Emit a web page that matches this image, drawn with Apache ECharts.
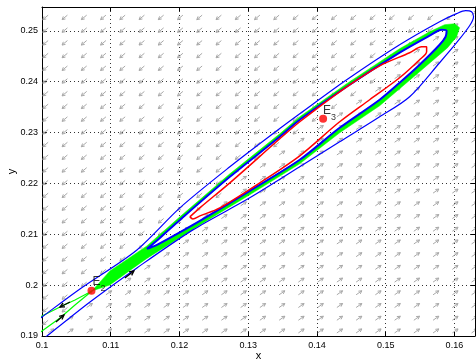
<!DOCTYPE html>
<html><head><meta charset="utf-8">
<script src="https://cdn.jsdelivr.net/npm/echarts@6/dist/echarts.min.js"></script>
<style>html,body{margin:0;padding:0;background:#fff}#c{width:476px;height:364px}</style>
</head><body><div id="c"></div>
<script>
// ---- axis ticks ----
const xTicks = [0.1, 0.11, 0.12, 0.13, 0.14, 0.15, 0.16];
const yTicks = [0.19, 0.2, 0.21, 0.22, 0.23, 0.24, 0.25];
// ---- equilibria ----
const E2 = [0.1072, 0.1989];
const E3 = [0.1409, 0.2327];
// ---- outer blue orbit (leaves the frame at lower left) ----
const outerBlueX = [0.09826,0.1,0.10552,0.11381,0.12006,0.12733,0.13416,0.1375,0.14433,0.15203,0.15785,0.16032,0.16163,0.1625,0.16279,0.16221,0.16032,0.15785,0.15349,0.14913,0.14331,0.1375,0.13023,0.12195,0.11381,0.10698,0.10073,0.09971];
const outerBlueY = [0.19197,0.19374,0.19925,0.20693,0.2152,0.22327,0.23035,0.2337,0.24039,0.24728,0.25181,0.25339,0.25398,0.25378,0.2528,0.25102,0.24768,0.24374,0.23705,0.23311,0.22819,0.22327,0.21717,0.21087,0.20339,0.19669,0.19,0.18882];
// ---- inner blue closed orbit ----
const innerBlueX = [0.11526,0.11715,0.12006,0.12733,0.13459,0.1375,0.14433,0.15203,0.1564,0.15814,0.15887,0.15872,0.15785,0.15494,0.15203,0.14913,0.14331,0.1375,0.13023,0.12297,0.1186,0.11642,0.11526];
const innerBlueY = [0.20713,0.20929,0.21283,0.2213,0.22917,0.23252,0.23902,0.24571,0.24906,0.25024,0.25004,0.24886,0.24728,0.24335,0.2398,0.23646,0.23094,0.22465,0.21854,0.21264,0.20929,0.20772,0.20713];
// ---- red closed orbit ----
const redX = [0.12151,0.12297,0.12733,0.13459,0.1375,0.14331,0.14913,0.15349,0.15523,0.15596,0.15596,0.15494,0.15203,0.14767,0.14331,0.1375,0.13169,0.12587,0.12297,0.12195,0.12151];
const redY = [0.21343,0.2152,0.22012,0.22878,0.23213,0.23803,0.24313,0.24571,0.24689,0.24689,0.24591,0.24433,0.24079,0.23646,0.23213,0.22543,0.22012,0.2152,0.21362,0.21303,0.21343];
// ---- green band (outer edge, starts and ends at E2) ----
const greenX = [0.10727,0.10988,0.11279,0.11526,0.12006,0.12733,0.13459,0.1375,0.14433,0.15203,0.1564,0.15858,0.16003,0.16076,0.16032,0.15901,0.15494,0.15203,0.14913,0.14331,0.1375,0.13023,0.12297,0.1186,0.11526,0.11279,0.10988,0.10727];
const greenY = [0.19886,0.20280,0.20545,0.20772,0.21343,0.22189,0.22976,0.23311,0.23961,0.2465,0.24984,0.25122,0.25142,0.25063,0.24886,0.24669,0.24197,0.23862,0.23528,0.22996,0.22386,0.21776,0.21185,0.20811,0.20526,0.20289,0.20004,0.19886];
// ---- green manifolds of E2 ----
const greenAX = [0.10727,0.1048,0.10291,0.1,0.09913];
const greenAY = [0.19886,0.19709,0.19591,0.19394,0.19335];
const greenBX = [0.10727,0.1048,0.10262,0.1,0.09913];
const greenBY = [0.19886,0.1961,0.19354,0.19098,0.1901];
// ---- black direction arrows (tail -> tip) ----
const dirTailX = [0.10407,0.10203,0.11206];
const dirTailY = [0.19669,0.19276,0.20142];
const dirTipX = [0.10262,0.1032,0.11337];
const dirTipY = [0.19571,0.19413,0.2028];
// ---- direction field grid ----
const quiverX = [0.1009,0.1037,0.1065,0.1093,0.1121,0.1149,0.1177,0.1205,0.1233,0.1261,0.1289,0.1317,0.1345,0.1373,0.1401,0.1429,0.1457,0.1485,0.1513,0.1541,0.1569,0.1597,0.1625];
const quiverY = [0.1906,0.1931,0.1956,0.1981,0.2006,0.2031,0.2056,0.2081,0.2106,0.2131,0.2156,0.2181,0.2206,0.2231,0.2256,0.2281,0.2306,0.2331,0.2356,0.2381,0.2406,0.2431,0.2456,0.2481,0.2506,0.2531];
const quiverAngleAbove = 220; // degrees, screen
const quiverAngleBelow = 35;

const FONT = 'Liberation Sans, Arial, sans-serif';
const pairs = (xs, ys) => xs.map((x, i) => [x, ys[i]]);
const slope = (E3[1] - E2[1]) / (E3[0] - E2[0]);
const quiverData = [];
quiverY.forEach(y => quiverX.forEach(x => {
  const side = (y - E2[1]) - slope * (x - E2[0]);
  quiverData.push([x, y, side > 0 ? quiverAngleAbove : quiverAngleBelow]);
}));

function arrowShape(p, rad, L, h, color, lw, ha) {
  const tip = [p[0] + L * Math.cos(rad), p[1] - L * Math.sin(rad)];
  const back = rad + Math.PI;
  const h1 = [tip[0] + h * Math.cos(back + ha), tip[1] - h * Math.sin(back + ha)];
  const h2 = [tip[0] + h * Math.cos(back - ha), tip[1] - h * Math.sin(back - ha)];
  return [
    {type: 'line', shape: {x1: p[0], y1: p[1], x2: tip[0], y2: tip[1]}, style: {stroke: color, lineWidth: lw}},
    {type: 'polyline', shape: {points: [h1, tip, h2]}, style: {stroke: color, lineWidth: lw, fill: null}}
  ];
}

const ring = pairs(greenX, greenY).concat(pairs(innerBlueX, innerBlueY).reverse());
const fmt = v => { const r = Math.round(v * 100) / 100; return Math.abs(v - r) < 1e-9 ? String(r) : ''; };

const axisCommon = {
  type: 'value',
  axisLine: {show: true, onZero: false, lineStyle: {color: '#000', width: 1}},
  axisTick: {show: true, inside: true, length: 4, lineStyle: {color: '#000'}},
};
const chart = echarts.init(document.getElementById('c'));
chart.setOption({
  animation: false,
  grid: {left: 42, right: 1, top: 7, bottom: 28, containLabel: false, outerBoundsMode: 'none'},
  xAxis: [
    Object.assign({}, axisCommon, {min: 0.1, max: 0.163, interval: 0.01, position: 'bottom',
      name: 'x', nameLocation: 'middle', nameGap: 14, nameMoveOverlap: false,
      nameTextStyle: {fontSize: 11, color: '#000', fontFamily: FONT},
      axisLabel: {fontSize: 9, color: '#000', fontFamily: FONT, margin: 5, showMaxLabel: false, formatter: fmt},
      splitLine: {show: true, lineStyle: {color: '#333', type: [1, 3], width: 1}}}),
    Object.assign({}, axisCommon, {min: 0.1, max: 0.163, interval: 0.01, position: 'top',
      axisLabel: {show: false}, splitLine: {show: false}})
  ],
  yAxis: [
    Object.assign({}, axisCommon, {min: 0.19, max: 0.2547, interval: 0.01, position: 'left',
      name: 'y', nameLocation: 'middle', nameGap: 25, nameMoveOverlap: false,
      nameTextStyle: {fontSize: 11, color: '#000', fontFamily: FONT},
      axisLabel: {fontSize: 9, color: '#000', fontFamily: FONT, margin: 4, showMaxLabel: false, formatter: fmt},
      splitLine: {show: true, lineStyle: {color: '#333', type: [1, 3], width: 1}}}),
    Object.assign({}, axisCommon, {min: 0.19, max: 0.2547, interval: 0.01, position: 'right',
      axisLabel: {show: false}, splitLine: {show: false}})
  ],
  series: [
    {type: 'custom', clip: true, z: 1, data: quiverData,
      renderItem: (params, api) => {
        const p = api.coord([api.value(0), api.value(1)]);
        return {type: 'group', children: arrowShape(p, api.value(2) * Math.PI / 180, 7, 3.5, '#a8a8a8', 1, 0.5)};
      }},
    {type: 'custom', clip: true, z: 2, data: [ring[0]],
      renderItem: (params, api) => ({type: 'polygon', shape: {points: ring.map(p => api.coord(p))},
        style: {fill: '#00ff00', stroke: '#00ff00', lineWidth: 0.5}})},
    {type: 'line', z: 3, data: pairs(greenAX, greenAY), showSymbol: false, lineStyle: {color: '#00ff00', width: 1.2}},
    {type: 'line', z: 3, data: pairs(greenBX, greenBY), showSymbol: false, lineStyle: {color: '#00ff00', width: 1.2}},
    {type: 'line', z: 4, data: pairs(outerBlueX, outerBlueY), showSymbol: false, smooth: 0.3, lineStyle: {color: '#0000ff', width: 1.2}},
    {type: 'line', z: 4, data: pairs(innerBlueX, innerBlueY), showSymbol: false, smooth: 0.3, lineStyle: {color: '#0000ff', width: 2}},
    {type: 'line', z: 4, data: pairs(redX, redY), showSymbol: false, smooth: 0.3, lineStyle: {color: '#ff0000', width: 1.5}},
    {type: 'custom', z: 5, data: dirTailX.map((x, i) => [x, dirTailY[i], dirTipX[i], dirTipY[i]]),
      renderItem: (params, api) => {
        const a = api.coord([api.value(0), api.value(1)]);
        const b = api.coord([api.value(2), api.value(3)]);
        const rad = Math.atan2(-(b[1] - a[1]), b[0] - a[0]);
        const L = Math.hypot(b[0] - a[0], b[1] - a[1]);
        return {type: 'group', children: arrowShape(a, rad, L, 5, '#000', 1.3, 0.45)};
      }},
    {type: 'scatter', z: 6, symbolSize: 8, itemStyle: {color: '#ff0000'},
      data: [
        {value: E2, label: {show: true, position: [5, -11], formatter: '{e|E}{s|2}'}},
        {value: E3, label: {show: true, position: [4, -10], formatter: '{e|E}{s|3}'}}
      ],
      label: {color: '#000', fontFamily: FONT,
        rich: {e: {fontSize: 12, lineHeight: 17, verticalAlign: 'top', fontFamily: FONT, color: '#000'},
               s: {fontSize: 9, lineHeight: 17, verticalAlign: 'bottom', fontFamily: FONT, color: '#000'}}}}
  ]
});
</script>
</body></html>
